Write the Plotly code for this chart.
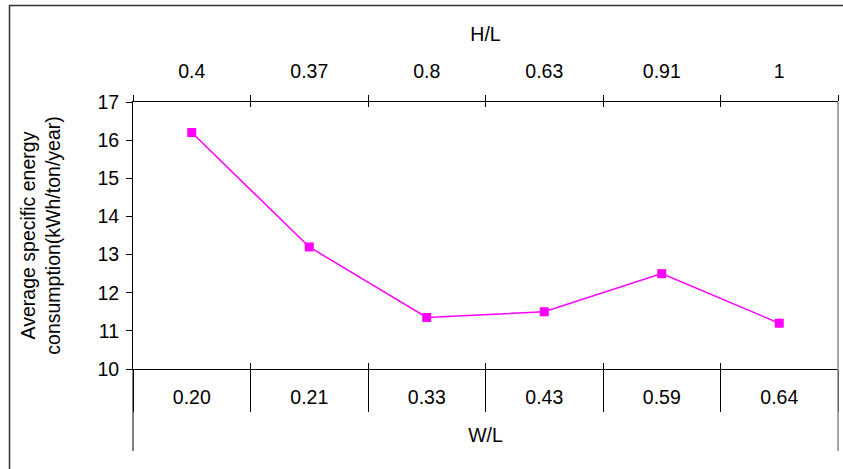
import plotly.graph_objects as go

hl_labels = ["0.4", "0.37", "0.8", "0.63", "0.91", "1"]
wl_labels = ["0.20", "0.21", "0.33", "0.43", "0.59", "0.64"]
energy = [16.2, 13.2, 11.35, 11.5, 12.5, 11.2]

n = len(energy)
idx = list(range(n))
bounds = [i - 0.5 for i in range(n + 1)]
xr = [-0.5, n - 0.5]

FONT = "Liberation Sans, Arial, sans-serif"
FS = 19.5

W, H = 843, 469
ML, MR, MT, MB = 133, 5, 102, 100
pw = W - ML - MR
ph = H - MT - MB

def px2x(p):
    return (p - ML) / pw

def py2y(p):
    return (H - MB - p) / ph

fig = go.Figure()
fig.add_trace(go.Scatter(
    x=idx, y=energy, mode="lines+markers",
    line=dict(color="#FF00FF", width=1.5),
    marker=dict(symbol="square", size=9, color="#FF00FF"),
    showlegend=False, hoverinfo="y",
))
# helper traces so overlay axes are drawn
for ax in ["x2", "x3", "x4"]:
    fig.add_trace(go.Scatter(x=idx, y=energy, xaxis=ax, mode="markers",
                             marker=dict(opacity=0), showlegend=False, hoverinfo="skip"))

common = dict(range=xr, showgrid=False, zeroline=False, fixedrange=True)

fig.update_layout(
    width=W, height=H,
    margin=dict(l=ML, r=MR, t=MT, b=MB),
    paper_bgcolor="white", plot_bgcolor="white",
    font=dict(family=FONT, size=FS, color="black"),
    xaxis=dict(
        **common,
        tickmode="array", tickvals=idx, ticktext=wl_labels,
        ticks="outside", ticklen=11, tickcolor="rgba(0,0,0,0)",
        tickfont=dict(size=FS),
        showline=True, linecolor="black", linewidth=1,
        minor=dict(tickmode="array", tickvals=bounds, ticks="outside", ticklen=42,
                   tickcolor="black", tickwidth=1, showgrid=False),
        title=dict(text="W/L", standoff=20, font=dict(size=FS)),
    ),
    xaxis2=dict(
        **common, overlaying="x", side="top", anchor="y",
        tickmode="array", tickvals=idx, ticktext=hl_labels,
        ticks="outside", ticklen=15, tickcolor="rgba(0,0,0,0)",
        tickfont=dict(size=FS),
        showline=True, linecolor="black", linewidth=1,
        minor=dict(tickmode="array", tickvals=bounds, ticks="outside", ticklen=6,
                   tickcolor="black", tickwidth=1, showgrid=False),
        title=dict(text="H/L", standoff=13, font=dict(size=FS)),
    ),
    xaxis3=dict(
        **common, overlaying="x", side="bottom", anchor="y",
        tickmode="array", tickvals=bounds, showticklabels=False,
        ticks="inside", ticklen=6, tickcolor="black", showline=False,
    ),
    xaxis4=dict(
        **common, overlaying="x", side="top", anchor="y",
        tickmode="array", tickvals=bounds, showticklabels=False,
        ticks="inside", ticklen=5, tickcolor="black", showline=False,
    ),
    yaxis=dict(
        range=[10, 17], dtick=1, tick0=10, showgrid=False, zeroline=False, fixedrange=True,
        ticks="outside", ticklen=6, tickcolor="black",
        tickfont=dict(size=FS), ticklabelstandoff=3,
        showline=True, linecolor="black", linewidth=1,
        title=dict(text="Average specific energy<br>consumption(kWh/ton/year)",
                   standoff=31, font=dict(size=FS)),
    ),
    shapes=[
        # outer frame
        dict(type="rect", xref="paper", yref="paper",
             x0=px2x(9.5), x1=px2x(860), y0=py2y(490), y1=py2y(5.5),
             line=dict(color="#333333", width=1.5), layer="below"),
        # left axis extension
        dict(type="line", xref="paper", yref="paper",
             x0=0, x1=0, y0=py2y(451), y1=0, line=dict(color="black", width=1)),
        # right plot edge
        dict(type="line", xref="paper", yref="paper",
             x0=1, x1=1, y0=py2y(451), y1=1, line=dict(color="#888888", width=1.5)),
    ],
)

fig.write_html("out.html")
